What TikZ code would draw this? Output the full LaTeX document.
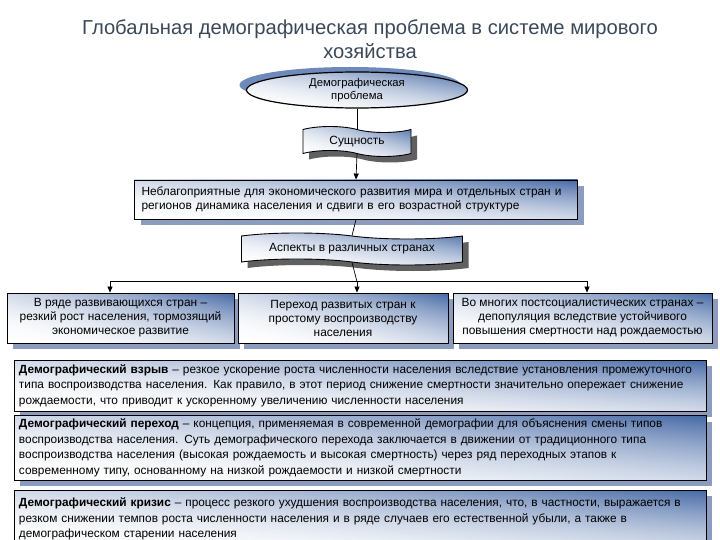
\documentclass[tikz,border=0pt]{standalone}
\usepackage{fontspec}
\setmainfont{Liberation Sans}
\usetikzlibrary{shapes.geometric,shapes.symbols,shadows,arrows.meta}
\pgfdeclarefunctionalshading{diagshade}{\pgfpoint{-50bp}{-50bp}}{\pgfpoint{50bp}{50bp}}{}{
  add 50 div 1 add 2 div
  dup 0 lt {pop 0} if
  dup 1 gt {pop 1} if
  dup mul
  dup 0.725 mul 1 exch sub
  exch dup 0.588 mul 1 exch sub
  exch 0.353 mul 1 exch sub
}
\definecolor{shblue}{RGB}{140,156,190}
\definecolor{shgray}{RGB}{96,96,96}
\definecolor{ellsh}{RGB}{110,138,186}
\definecolor{titlec}{RGB}{58,72,88}
\tikzset{
  grad/.style={shading=diagshade, shading angle=0},
  rbox/.style={draw=black, line width=0.9pt, grad, rectangle,
    drop shadow={shadow xshift=6pt, shadow yshift=-6pt, fill=shblue, opacity=1}},
  wbox/.style={draw=black, line width=0.9pt, grad, tape,
    tape bend top=out and in, tape bend bottom=out and in, tape bend height=6pt,
    drop shadow={shadow xshift=6pt, shadow yshift=-6pt, fill=shgray, opacity=1}},
  small/.style={font=\fontsize{11.9}{14}\selectfont},
  deftext/.style={font=\fontsize{11.85}{15.5}\selectfont},
  arr/.style={-{Triangle[length=6pt,width=5pt]}, line width=0.7pt},
  ln/.style={line width=0.7pt}
}
\begin{document}
\begin{tikzpicture}[x=1pt,y=-1pt]
\useasboundingbox (0,0) rectangle (720,540);
% title
\node[text=titlec, font=\fontsize{20.2}{24}\selectfont, align=center] (title) at (370,39.5)
  {Глобальная демографическая проблема в системе мирового\\хозяйства};
\coordinate (j) at (357,281.7);
% ellipse
\node[ellipse, draw=black, line width=1.2pt, minimum width=221pt, minimum height=36pt,
  grad, inner sep=0pt,
  drop shadow={shadow xshift=-7pt, shadow yshift=5pt, fill=ellsh, opacity=1},
  font=\fontsize{11.3}{13}\selectfont, align=center] (ell) at (357,90)
  {Демографическая\\проблема};
\node[wbox, minimum width=108pt, minimum height=30pt, small] (ess) at (357,141.5) {Сущность};
\node[rbox, minimum width=443pt, minimum height=39pt, text width=429pt, align=left, inner xsep=7pt, small] (neb) at (356,199.5)
  {Неблагоприятные для экономического развития мира и отдельных стран и\\регионов динамика населения и сдвиги в его возрастной структуре};
\node[wbox, minimum width=221pt, minimum height=32pt, small] (asp) at (352,249) {Аспекты в различных странах};
\node[rbox, minimum width=227pt, minimum height=50pt, align=center, small] (b1) at (120.5,318)
  {В ряде развивающихся стран –\\резкий рост населения, тормозящий\\экономическое развитие};
\node[rbox, minimum width=210pt, minimum height=50pt, align=center, small] (b2) at (343,318)
  {Переход развитых стран к\\простому воспроизводству\\населения};
\node[rbox, minimum width=259pt, minimum height=50pt, align=center, small] (b3) at (582.5,318)
  {Во многих постсоциалистических странах –\\депопуляция вследствие устойчивого\\повышения смертности над рождаемостью};
\node[rbox, minimum width=692pt, minimum height=51pt, text width=682pt, align=left, inner xsep=5pt, deftext] (d1) at (360,385.5)
  {\textbf{Демографический взрыв} – резкое ускорение роста численности населения вследствие установления промежуточного\\типа воспроизводства населения. Как правило, в этот период снижение смертности значительно опережает снижение\\рождаемости, что приводит к ускоренному увеличению численности населения};
\node[rbox, minimum width=692pt, minimum height=62pt, text width=682pt, align=left, inner xsep=5pt, deftext] (d2) at (360,448)
  {\textbf{Демографический переход} – концепция, применяемая в современной демографии для объяснения смены типов\\воспроизводства населения. Суть демографического перехода заключается в движении от традиционного типа\\воспроизводства населения (высокая рождаемость и высокая смертность) через ряд переходных этапов к\\современному типу, основанному на низкой рождаемости и низкой смертности};
\node[rbox, minimum width=692pt, minimum height=58pt, text width=682pt, align=left, inner xsep=5pt, deftext] (d3) at (360,519)
  {\textbf{Демографический кризис} – процесс резкого ухудшения воспроизводства населения, что, в частности, выражается в\\резком снижении темпов роста численности населения и в ряде случаев его естественной убыли, а также в\\демографическом старении населения};
% connectors
\draw[ln] (ell.south) -- (ess.north);
\draw[arr] (ess.south) -- (neb.north);
\draw[ln] (neb.south) -- (asp.north);
\draw[ln] (asp.south) -- (j);
\draw[arr] (j) -| ([xshift=-10.5pt]b1.north);
\draw[arr] (j) -- (j |- b2.north);
\draw[arr] (j) -| ([xshift=4.5pt]b3.north);
\end{tikzpicture}
\end{document}
